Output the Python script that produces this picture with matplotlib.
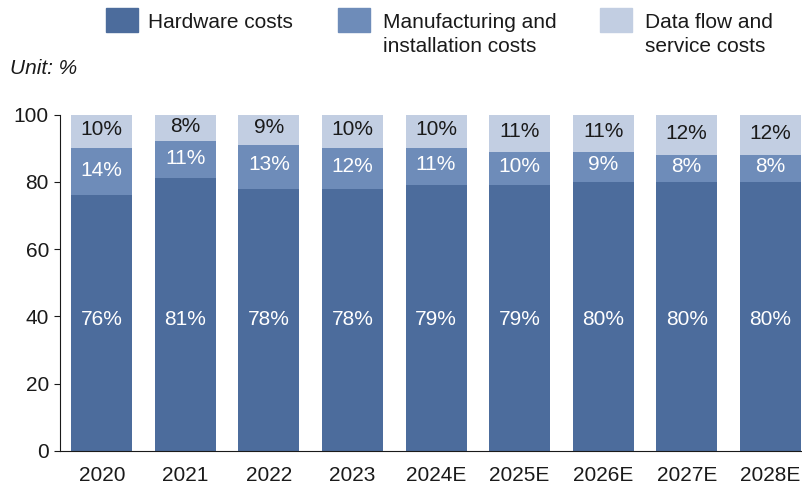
import matplotlib

matplotlib.use("Agg")
import matplotlib.pyplot as plt
from matplotlib.patches import Rectangle

# ── data ────────────────────────────────────────────────────────────────────
YEARS = ["2020", "2021", "2022", "2023", "2024E", "2025E", "2026E", "2027E", "2028E"]
HARDWARE = [76, 81, 78, 78, 79, 79, 80, 80, 80]
MANUFACTURING = [14, 11, 13, 12, 11, 10, 9, 8, 8]
DATA_SERVICE = [10, 8, 9, 10, 10, 11, 11, 12, 12]
SERIES_NAMES = ["Hardware costs", "Manufacturing and\ninstallation costs",
                "Data flow and\nservice costs"]

C_HW = "#4c6c9c"
C_MFG = "#6e8cb9"
C_DATA = "#c2cee2"
INK = "#1a1a1a"
FS = 15

plt.rcParams.update({
    "font.family": ["Liberation Sans", "DejaVu Sans"],
    "font.size": FS,
})

W, H = 802, 487
fig = plt.figure(figsize=(W / 100, H / 100), dpi=100)
ax = fig.add_axes([60 / W, 36 / H, 1 - 60 / W, (451 - 114.5) / H])

x = list(range(len(YEARS)))
w = 0.73
bottom2 = HARDWARE
bottom3 = [a + b for a, b in zip(HARDWARE, MANUFACTURING)]
ax.bar(x, HARDWARE, w, color=C_HW)
ax.bar(x, MANUFACTURING, w, bottom=bottom2, color=C_MFG)
ax.bar(x, DATA_SERVICE, w, bottom=bottom3, color=C_DATA)

for i in x:
    ax.text(i, 39, f"{HARDWARE[i]}%", ha="center", va="center",
            color="white", fontsize=FS)
    ax.text(i, bottom2[i] + MANUFACTURING[i] / 2 + 0.5, f"{MANUFACTURING[i]}%",
            ha="center", va="center", color="white", fontsize=FS)
    ax.text(i, bottom3[i] + DATA_SERVICE[i] / 2 + 0.5, f"{DATA_SERVICE[i]}%",
            ha="center", va="center", color=INK, fontsize=FS)

ax.set_xlim(-0.5, 8.38)
ax.set_ylim(0, 100)
ax.set_yticks([0, 20, 40, 60, 80, 100])
ax.set_xticks(x)
ax.set_xticklabels(YEARS)
for s in ("top", "right"):
    ax.spines[s].set_visible(False)
ax.spines["left"].set_color(INK)
ax.spines["bottom"].set_color(INK)
ax.tick_params(axis="y", length=4, pad=4, colors=INK, labelsize=FS)
ax.tick_params(axis="x", length=0, pad=11, colors=INK, labelsize=FS)

fig.text(10 / W, 1 - 68 / H, "Unit: %", style="italic", fontsize=FS,
         color=INK, va="center")

# legend drawn by hand so the swatches sit where the reference has them
for (sx, tx), c, name in zip([(106, 148), (338, 383), (600, 645)],
                             (C_HW, C_MFG, C_DATA), SERIES_NAMES):
    fig.patches.append(Rectangle((sx / W, 1 - 32 / H), 32 / W, 24 / H,
                                 transform=fig.transFigure, color=c))
    fig.text(tx / W, 1 - 13 / H, name, fontsize=FS, color=INK, va="top",
             linespacing=1.3)

fig.savefig("out.png", dpi=100)
